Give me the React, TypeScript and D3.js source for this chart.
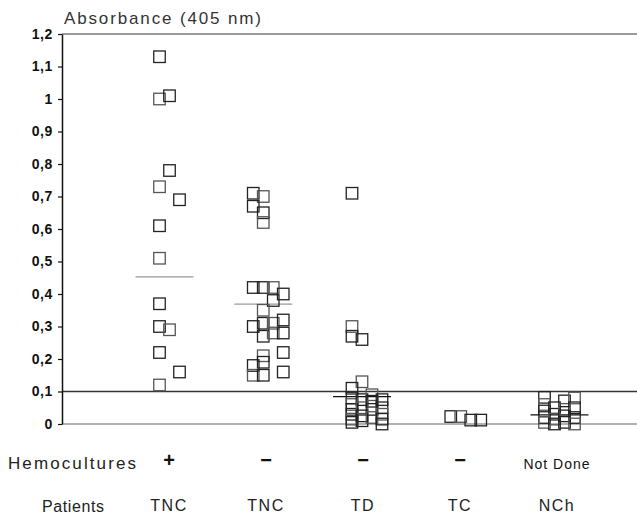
import { useRef, useEffect } from "react";
import * as d3 from "d3";

// categories on the x axis
const categories = ["TNC+", "TNC-", "TD", "TC", "NCh"];
const hemocultures = ["+", "\u2212", "\u2212", "\u2212", "Not Done"];
const patients = ["TNC", "TNC", "TD", "TC", "NCh"];
const yTicks = [0, 0.1, 0.2, 0.3, 0.4, 0.5, 0.6, 0.7, 0.8, 0.9, 1, 1.1, 1.2];

// absorbance values per group, with the jitter column of each square
const tncPosValues = [1.13, 1.0, 1.01, 0.78, 0.73, 0.69, 0.61, 0.51, 0.37, 0.3, 0.29, 0.22, 0.16, 0.12];
const tncPosCols = [-0.5, -0.5, 0.5, 0.5, -0.5, 1.5, -0.5, -0.5, -0.5, -0.5, 0.5, -0.5, 1.5, -0.5];

const tncNegValues = [
  0.71, 0.7, 0.67, 0.65, 0.62, 0.42, 0.42, 0.42, 0.4, 0.38, 0.35, 0.3, 0.31, 0.31, 0.32, 0.27, 0.28,
  0.28, 0.22, 0.21, 0.19, 0.18, 0.15, 0.15, 0.16,
];
const tncNegCols = [-1, 0, -1, 0, 0, -1, 0, 1, 2, 1, 0, -1, 0, 1, 2, 0, 1, 2, 2, 0, 0, -1, -1, 0, 2];

const tdValues = [
  0.71, 0.3, 0.27, 0.26, 0.13, 0.11, 0.08, 0.06, 0.045, 0.03, 0.015, 0.005, 0.075, 0.05, 0.025, 0.01,
  0.09, 0.07, 0.045, 0.02, 0.075, 0.05, 0.03, 0.015, 0.0,
];
const tdCols = [-1, -1, -1, 0, 0, -1, -1, -1, -1, -1, -1, -1, 0, 0, 0, 0, 1, 1, 1, 1, 2, 2, 2, 2, 2];

const tcValues = [0.023, 0.023, 0.012, 0.012];
const tcCols = [-1, 0, 1, 2];

const nchValues = [
  0.082, 0.06, 0.04, 0.02, 0.005, 0.05, 0.03, 0.015, 0.0, 0.071, 0.045, 0.025, 0.005, 0.08, 0.05, 0.02,
  0.0,
];
const nchCols = [-1.5, -1.5, -1.5, -1.5, -1.5, -0.5, -0.5, -0.5, -0.5, 0.5, 0.5, 0.5, 0.5, 1.5, 1.5, 1.5, 1.5];

// group means (horizontal bars)
const groupMeans = [0.453, 0.369, 0.084, null, 0.028];
const meanColors = ["#9a9a9a", "#9a9a9a", "#111", "#111", "#111"];

const groupValues = [tncPosValues, tncNegValues, tdValues, tcValues, nchValues];
const groupCols = [tncPosCols, tncNegCols, tdCols, tcCols, nchCols];

const font = "'Liberation Sans', Arial, Helvetica, sans-serif";

const App = () => {
  const ref = useRef<SVGSVGElement | null>(null);

  useEffect(() => {
    const svg = d3.select(ref.current);
    svg.selectAll("*").remove();

    const left = 62;
    const right = 637;
    const x = d3.scalePoint<string>().domain(categories).range([164.5, 559.5]);
    const xl = d3.scalePoint<string>().domain(categories).range([169, 557]);
    const y = d3.scaleLinear().domain([0, 1.2]).range([424, 34]);
    const colStep = 10;
    const sq = 11.5;

    /** reference lines */
    svg
      .append("line")
      .attr("x1", left)
      .attr("x2", right)
      .attr("y1", y(1.2))
      .attr("y2", y(1.2))
      .attr("stroke", "#777")
      .attr("stroke-width", 1.5);
    svg
      .append("line")
      .attr("x1", left)
      .attr("x2", right)
      .attr("y1", y(0.1))
      .attr("y2", y(0.1))
      .attr("stroke", "#333")
      .attr("stroke-width", 1.3);
    svg
      .append("line")
      .attr("x1", left)
      .attr("x2", right)
      .attr("y1", y(0))
      .attr("y2", y(0))
      .attr("stroke", "#999")
      .attr("stroke-width", 1.5);

    /** y axis */
    const fmt = d3.formatLocale({ decimal: ",", thousands: ".", grouping: [3], currency: ["", ""] }).format(".1~f");
    const yAxis = svg
      .append("g")
      .attr("transform", `translate(${left},0)`)
      .call(
        d3
          .axisLeft(y)
          .tickValues(yTicks)
          .tickSize(4)
          .tickSizeOuter(0)
          .tickPadding(5)
          .tickFormat((d) => fmt(d as number))
      );
    yAxis.select(".domain").attr("stroke", "#111").attr("stroke-width", 1.5);
    yAxis.selectAll(".tick line").attr("stroke", "#111").attr("stroke-width", 1.2);
    yAxis
      .selectAll(".tick text")
      .attr("fill", "#111")
      .style("font-family", font)
      .style("font-size", "14px")
      .style("font-weight", "bold")
      .style("letter-spacing", "0.6px");

    /** title */
    svg
      .append("text")
      .attr("x", 64)
      .attr("y", 24)
      .attr("textLength", 197)
      .attr("lengthAdjust", "spacing")
      .attr("fill", "#333")
      .style("font-family", font)
      .style("font-size", "17px")
      .text("Absorbance (405 nm)");

    /** mean bars */
    categories.forEach((c, i) => {
      const m = groupMeans[i];
      if (m === null) return;
      svg
        .append("line")
        .attr("x1", (x(c) as number) - 29)
        .attr("x2", (x(c) as number) + 29)
        .attr("y1", y(m))
        .attr("y2", y(m))
        .attr("stroke", meanColors[i])
        .attr("stroke-width", 1.3);
    });

    /** squares */
    categories.forEach((c, i) => {
      const vals = groupValues[i];
      const cols = groupCols[i];
      svg
        .append("g")
        .selectAll("rect")
        .data(vals)
        .join("rect")
        .attr("x", (d, j) => (x(c) as number) + cols[j] * colStep - sq / 2)
        .attr("y", (d) => y(d) - sq / 2)
        .attr("width", sq)
        .attr("height", sq)
        .attr("fill", "none")
        .attr("stroke", (d, j) => (j % 3 === 1 ? "#555" : "#222"))
        .attr("stroke-width", 1.3);
    });

    /** bottom labels */
    svg
      .append("text")
      .attr("x", 8)
      .attr("y", 469)
      .attr("textLength", 128)
      .attr("lengthAdjust", "spacing")
      .attr("fill", "#222")
      .style("font-family", font)
      .style("font-size", "17px")
      .text("Hemocultures");
    svg
      .append("g")
      .selectAll("text")
      .data(hemocultures)
      .join("text")
      .attr("x", (d, i) => xl(categories[i]) as number)
      .attr("y", (d) => (d === "Not Done" ? 469 : 467))
      .attr("text-anchor", "middle")
      .attr("fill", "#111")
      .style("font-family", font)
      .style("font-size", (d) => (d === "Not Done" ? "14px" : "20px"))
      .style("font-weight", (d) => (d === "Not Done" ? "normal" : "bold"))
      .style("letter-spacing", (d) => (d === "Not Done" ? "1px" : "0"))
      .text((d) => d);

    svg
      .append("text")
      .attr("x", 42)
      .attr("y", 512)
      .attr("textLength", 62)
      .attr("lengthAdjust", "spacing")
      .attr("fill", "#222")
      .style("font-family", font)
      .style("font-size", "16px")
      .text("Patients");
    svg
      .append("g")
      .selectAll("text")
      .data(patients)
      .join("text")
      .attr("x", (d, i) => xl(categories[i]) as number)
      .attr("y", 511)
      .attr("text-anchor", "middle")
      .attr("fill", "#222")
      .style("font-family", font)
      .style("font-size", "16px")
      .style("letter-spacing", "1.5px")
      .text((d) => d);
  }, []);

  return (
    <svg
      ref={ref}
      width={637}
      height={514}
      style={{ position: "absolute", left: 0, top: 0, background: "#fff" }}
    />
  );
};

export default App;
